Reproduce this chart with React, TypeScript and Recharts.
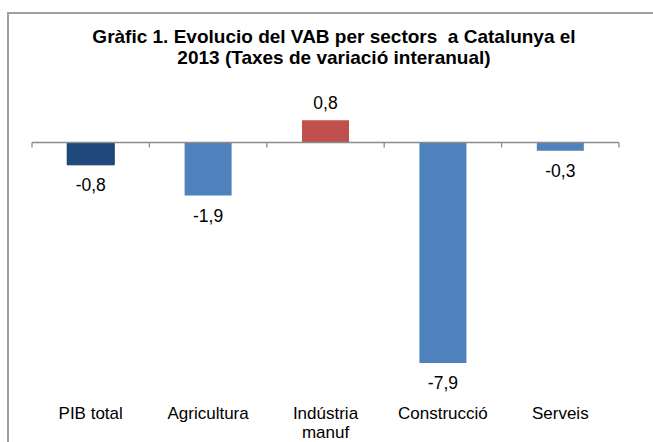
import React from 'react';
import { BarChart, Bar, XAxis, YAxis, Cell, LabelList, ReferenceLine } from 'recharts';

const categories = ['PIB total', 'Agricultura', 'Indústria\nmanuf', 'Construcció', 'Serveis'];
const values = [-0.8, -1.9, 0.8, -7.9, -0.3];
const colors = ['#1F497D', '#4F81BD', '#C0504D', '#4F81BD', '#4F81BD'];
const strokes = ['#17375E', 'none', 'none', 'none', 'none'];
const titleLines = ['Gràfic 1. Evolucio del VAB per sectors  a Catalunya el', '2013 (Taxes de variació interanual)'];

const data = categories.map((c, i) => ({ name: c, value: values[i] }));

const FONT = '"Liberation Sans", Arial, sans-serif';

const CategoryTick = (props: any) => {
  const { x, y, payload } = props;
  const lines = String(payload.value).split('\n');
  return (
    <text x={x} y={y} textAnchor="middle" fontSize={17} fontFamily={FONT} fill="#000">
      {lines.map((l: string, i: number) => (
        <tspan key={i} x={x} dy={i === 0 ? 53 : 19.3}>{l}</tspan>
      ))}
    </text>
  );
};

const ValueLabel = (props: any) => {
  const { x, y, width, height, value } = props;
  const top = Math.min(y, y + height);
  const bottom = Math.max(y, y + height);
  const cx = x + width / 2;
  const ty = value >= 0 ? top - 11 : bottom + 26.5;
  return (
    <text x={cx} y={ty} textAnchor="middle" fontSize={17.5} fontFamily={FONT} fill="#000">
      {Number(value).toFixed(1).replace('.', ',')}
    </text>
  );
};

const ZeroAxis = (props: any) => {
  const { x1, y1, x2 } = props;
  const n = categories.length;
  const step = (x2 - x1) / n;
  const ticks = [];
  for (let i = 0; i <= n; i++) {
    const tx = x1 + step * i;
    ticks.push(<line key={i} x1={tx} y1={y1} x2={tx} y2={y1 + 5} stroke="#8C8C8C" strokeWidth={1.3} />);
  }
  return (
    <g>
      <line x1={x1} y1={y1} x2={x2} y2={y1} stroke="#8C8C8C" strokeWidth={1.5} />
      {ticks}
    </g>
  );
};

export default function App() {
  return (
    <div style={{ position: 'absolute', left: 0, top: 0, width: 653, height: 442, overflow: 'hidden', background: '#fff', fontFamily: FONT }}>
      <div style={{ position: 'absolute', left: 7, top: 12, width: 700, height: 500, border: '2px solid #A0A0A0', boxSizing: 'border-box' }} />
      <div style={{ position: 'absolute', left: 0, top: 26, width: 668, textAlign: 'center', fontWeight: 'bold', fontSize: 19, lineHeight: '21px', color: '#000', whiteSpace: 'pre' }}>
        {titleLines.map((t, i) => (<div key={i}>{t}</div>))}
      </div>
      <div style={{ position: 'absolute', left: 0, top: 0 }}>
        <BarChart width={653} height={442} data={data} margin={{ top: 114.6, right: 34, bottom: 46.3, left: 32 }} barCategoryGap="30%">
          <XAxis dataKey="name" axisLine={false} tickLine={false} tickSize={0} tickMargin={0} interval={0} tick={<CategoryTick />} />
          <YAxis hide domain={[-8, 1]} />
          <Bar dataKey="value" isAnimationActive={false}>
            {data.map((d, i) => (
              <Cell key={i} fill={colors[i]} stroke={strokes[i]} strokeWidth={1} />
            ))}
            <LabelList dataKey="value" content={<ValueLabel />} />
          </Bar>
          <ReferenceLine y={0} shape={<ZeroAxis />} />
        </BarChart>
      </div>
    </div>
  );
}
